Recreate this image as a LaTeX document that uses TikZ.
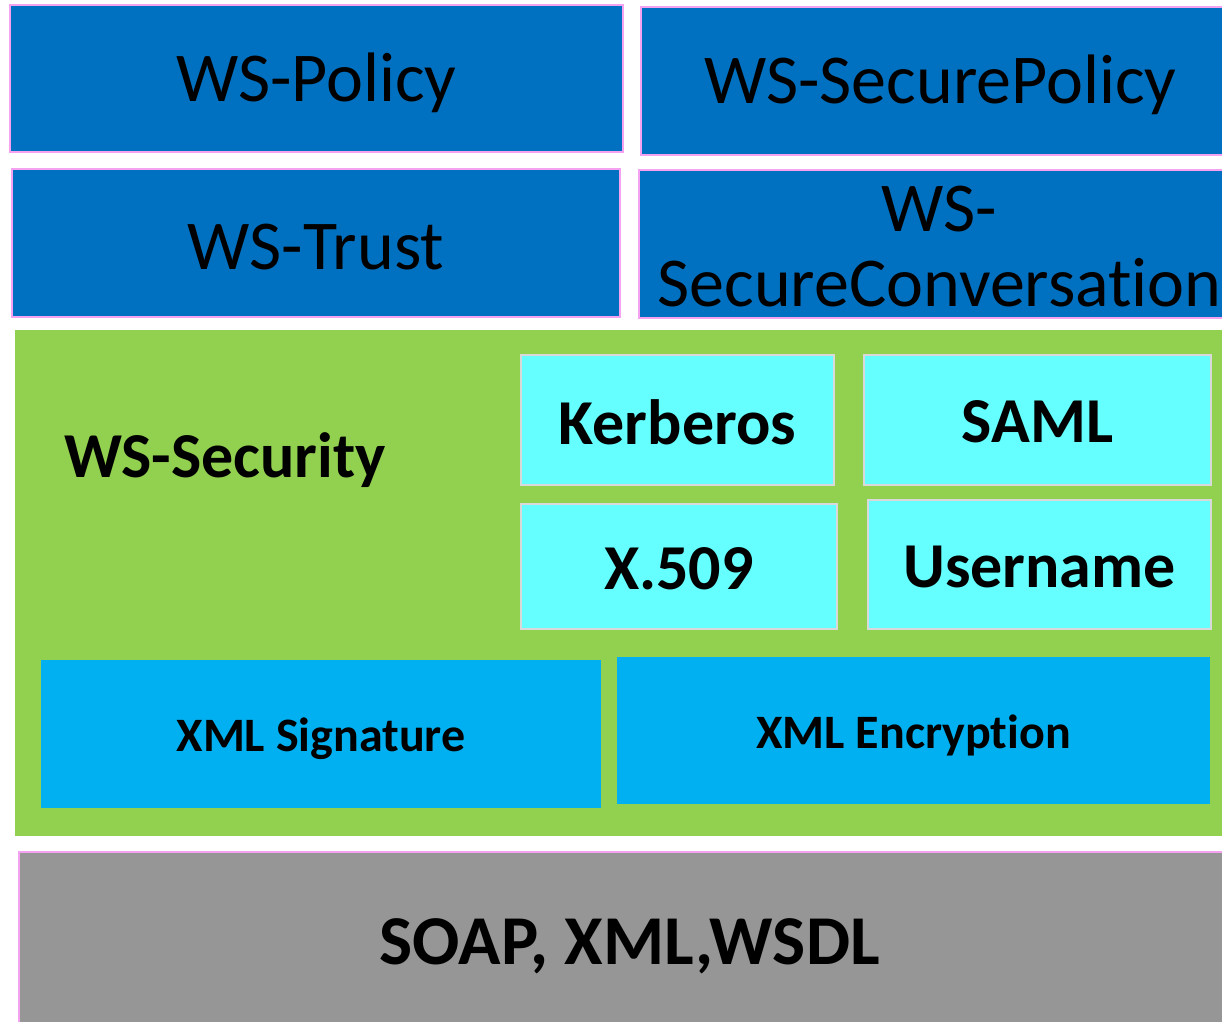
\documentclass[tikz,border=0pt]{standalone}
\usepackage{fontspec}
\setmainfont{Carlito}[Ligatures={NoCommon}]
\definecolor{topblue}{HTML}{0070C0}
\definecolor{pinkline}{HTML}{F5A3F0}
\definecolor{lgreen}{HTML}{92D050}
\definecolor{lcyan}{HTML}{66FFFF}
\definecolor{cyanline}{HTML}{D9D9D9}
\definecolor{skyblue}{HTML}{00B0F0}
\definecolor{soapgray}{HTML}{969696}
\newcommand{\dn}[2]{\raisebox{-#1pt}[\height][\depth]{#2}}
\tikzset{
  topbox/.style={draw=pinkline, fill=topblue, line width=2pt, inner sep=0pt, font=\fontsize{70}{75}\selectfont, text=black, align=center},
  tokbox/.style={draw=cyanline, fill=lcyan, line width=2pt, inner sep=0pt, font=\fontsize{64}{70}\selectfont\bfseries},
  xmlbox/.style={fill=skyblue, inner sep=0pt, font=\fontsize{48}{54}\selectfont\bfseries},
}
\begin{document}
\begin{tikzpicture}[x=1pt,y=-1pt]
\useasboundingbox (0,0) rectangle (1222,1021);
\clip (0,0) rectangle (1222,1021);
\fill[white] (0,0) rectangle (1222,1021);
\node[topbox, minimum width=613pt, minimum height=147pt] (pol) at (316.5,78.5) {\dn{4}{WS-Policy}};
\node[topbox, minimum width=599pt, minimum height=148pt] (spol) at (940.5,81) {\dn{4}{WS-SecurePolicy}};
\node[topbox, minimum width=608pt, minimum height=148pt] (trust) at (316,243) {\dn{4}{WS-Trust}};
\node[topbox, minimum width=601pt, minimum height=148pt] (sconv) at (939.5,244) {};
\node[font=\fontsize{70}{75}\selectfont, align=center, inner sep=0pt, text width=601pt] (sconvtext) at (939.5,247) {WS-\\SecureConversation};
\node[fill=lgreen, inner sep=0pt, minimum width=1225pt, minimum height=506pt] (wss) at (627.5,583) {};
\node[font=\fontsize{64}{70}\selectfont\bfseries, inner sep=0pt] (wsslabel) at (225,460) {WS-Security};
\node[tokbox, minimum width=313pt, minimum height=130pt] (kerb) at (677.5,420) {\dn{2}{Kerberos}};
\node[tokbox, minimum width=347pt, minimum height=130pt] (saml) at (1037.5,420) {\dn{2}{SAML}};
\node[tokbox, minimum width=316pt, minimum height=125pt] (x509) at (679,566.5) {\dn{2}{X.509}};
\node[tokbox, minimum width=343pt, minimum height=129pt] (user) at (1039.5,564.5) {\dn{2}{Username}};
\node[xmlbox, minimum width=560pt, minimum height=148pt] (sig) at (321,734) {\dn{5}{XML Signature}};
\node[xmlbox, minimum width=593pt, minimum height=147pt] (enc) at (913.5,730.5) {\dn{5}{XML Encryption}};
\node[draw=pinkline, fill=soapgray, line width=2pt, inner sep=0pt, minimum width=1221pt, minimum height=178pt, font=\fontsize{70}{76}\selectfont\bfseries] (soap) at (629.5,941) {\dn{5}{SOAP, XML,WSDL}};
\end{tikzpicture}
\end{document}
